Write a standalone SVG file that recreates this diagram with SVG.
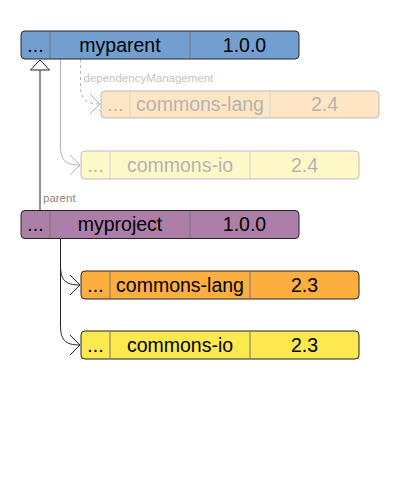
<svg xmlns="http://www.w3.org/2000/svg" width="400" height="500" viewBox="0 0 400 500">
<style>
.box{stroke:#222;stroke-width:1}
.div{stroke:#777;stroke-width:1}
.t{font-family:"Liberation Sans",Arial,sans-serif;font-size:19.5px;fill:#000;text-anchor:middle}
.lbl{font-family:"Liberation Sans",Arial,sans-serif;font-size:11.5px}
.faded{opacity:0.3}
.dep{fill:none;stroke:#222;stroke-width:1}
.mdep{fill:none;stroke:#b3b3b3;stroke-width:1}
</style>
<defs>
<marker id="openb" viewBox="0 0 12 22" refX="11" refY="11" markerWidth="12" markerHeight="22" markerUnits="userSpaceOnUse" orient="auto">
<path d="M1,1 L11,11 L1,21" fill="none" stroke="#222" stroke-width="1"/>
</marker>
<marker id="openg" viewBox="0 0 12 22" refX="11" refY="11" markerWidth="12" markerHeight="22" markerUnits="userSpaceOnUse" orient="auto">
<path d="M1,1 L11,11 L1,21" fill="none" stroke="#b3b3b3" stroke-width="1"/>
</marker>
</defs>
<g id="connectors">
<path class="mdep" d="M80.5,59 L80.5,84 C80.5,99 85,104 100,104" stroke-dasharray="3,3" marker-end="url(#openg)"/>
<path class="mdep" d="M60.5,59 L60.5,145 C60.5,160 65,165 80,165" marker-end="url(#openg)"/>
<path class="dep" d="M60.5,239 L60.5,265 C60.5,280 65,285 80,285" marker-end="url(#openb)"/>
<path class="dep" d="M60.5,239 L60.5,325 C60.5,340 65,345 80,345" marker-end="url(#openb)"/>
<line x1="40" y1="70" x2="40" y2="210" stroke="#777" stroke-width="1.6"/>
<polygon points="40,60 30.5,70 49.5,70" fill="#fff" stroke="#222" stroke-width="1"/>
<text class="lbl" x="43" y="202" fill="#888">parent</text>
<text class="lbl" x="83.5" y="81.5" fill="#c4c4c4">dependencyManagement</text>
</g>
<g id="myparent">
<rect class="box" x="21" y="31" width="278" height="28" rx="4" fill="#729fcf"/>
<line class="div" x1="50" y1="31.5" x2="50" y2="58.5"/>
<line class="div" x1="190" y1="31.5" x2="190" y2="58.5"/>
<text class="t" x="35.5" y="51.5">...</text>
<text class="t" x="120" y="51.5">myparent</text>
<text class="t" x="244.5" y="51.5">1.0.0</text>
</g>
<g id="dm-commons-lang" class="faded">
<rect class="box" x="101" y="91" width="278" height="27" rx="4" fill="#fcaf3e"/>
<line class="div" x1="130" y1="91.5" x2="130" y2="117.5"/>
<line class="div" x1="270" y1="91.5" x2="270" y2="117.5"/>
<text class="t" x="115.5" y="111">...</text>
<text class="t" x="200" y="111">commons-lang</text>
<text class="t" x="324.5" y="111">2.4</text>
</g>
<g id="dm-commons-io" class="faded">
<rect class="box" x="81" y="151" width="278" height="28" rx="4" fill="#fce94f"/>
<line class="div" x1="110" y1="151.5" x2="110" y2="178.5"/>
<line class="div" x1="250" y1="151.5" x2="250" y2="178.5"/>
<text class="t" x="95.5" y="171.5">...</text>
<text class="t" x="180" y="171.5">commons-io</text>
<text class="t" x="304.5" y="171.5">2.4</text>
</g>
<g id="myproject">
<rect class="box" x="21" y="210.5" width="278" height="28" rx="4" fill="#ad7fa8"/>
<line class="div" x1="50" y1="211" x2="50" y2="238"/>
<line class="div" x1="190" y1="211" x2="190" y2="238"/>
<text class="t" x="35.5" y="231">...</text>
<text class="t" x="120" y="231">myproject</text>
<text class="t" x="244.5" y="231">1.0.0</text>
</g>
<g id="commons-lang">
<rect class="box" x="81" y="271" width="278" height="28" rx="4" fill="#fcaf3e"/>
<line class="div" x1="110" y1="271.5" x2="110" y2="298.5"/>
<line class="div" x1="250" y1="271.5" x2="250" y2="298.5"/>
<text class="t" x="95.5" y="291.5">...</text>
<text class="t" x="180" y="291.5">commons-lang</text>
<text class="t" x="304.5" y="291.5">2.3</text>
</g>
<g id="commons-io">
<rect class="box" x="81" y="331" width="278" height="28" rx="4" fill="#fce94f"/>
<line class="div" x1="110" y1="331.5" x2="110" y2="358.5"/>
<line class="div" x1="250" y1="331.5" x2="250" y2="358.5"/>
<text class="t" x="95.5" y="351.5">...</text>
<text class="t" x="180" y="351.5">commons-io</text>
<text class="t" x="304.5" y="351.5">2.3</text>
</g>
</svg>
